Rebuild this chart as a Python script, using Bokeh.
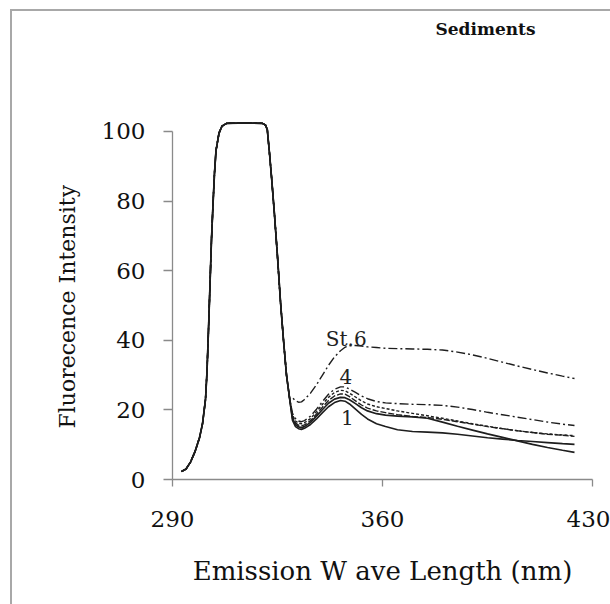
from bokeh.plotting import figure
from bokeh.models import Range1d, FixedTicker, Title
from bokeh.core.properties import value
from bokeh.embed import file_html
from bokeh.resources import INLINE

# ---------------- data ----------------
title_text = "Sediments"
x_label = "Emission W ave Length (nm)"
y_label = "Fluorecence Intensity"
x_ticks = [290, 360, 430]
y_ticks = [0, 20, 40, 60, 80, 100]

# common excitation/scatter peak shared by all stations (nm, intensity)
wl_common = [293, 294.5, 296, 297.5, 299, 300, 301, 301.5, 302, 302.5, 303, 303.5,
             304, 304.5, 305.5, 306.5, 308, 312, 316, 320, 321, 321.6, 322.3, 323,
             324, 325, 326, 327, 328, 329]
int_common = [2.3, 3.0, 5.0, 8.0, 12.0, 16.0, 23.0, 31.0, 43.0, 56.0, 69.0, 79.0,
              88.0, 94.5, 99.5, 101.5, 102.3, 102.4, 102.4, 102.3, 101.8, 100.5, 94.0, 87.0,
              76.0, 64.0, 51.0, 40.0, 30.0, 23.5]

# station specific part
wl_tail = [330, 331, 332, 333, 334, 336, 338, 340, 342, 344, 346, 347.5, 349, 351, 353,
           355, 358, 361, 365, 370, 375, 380, 385, 390, 395, 400, 405, 410, 415, 420, 424]
st6 = [23.5, 22.6, 22.2, 22.3, 23.0, 24.8, 27.2, 30.0, 32.8, 35.2, 37.0, 38.0, 38.4, 38.5, 38.3,
       38.1, 37.9, 37.7, 37.6, 37.5, 37.4, 37.2, 36.6, 35.8, 34.8, 33.7, 32.6, 31.6, 30.6, 29.7, 29.0]
st4 = [19.0, 17.5, 16.8, 16.6, 16.9, 18.2, 20.2, 22.4, 24.5, 25.9, 26.6, 26.6, 26.0, 25.0, 24.0,
       23.2, 22.4, 22.0, 21.8, 21.6, 21.5, 21.3, 20.8, 20.1, 19.3, 18.6, 17.9, 17.2, 16.5, 15.9, 15.5]
st5 = [18.5, 16.8, 16.2, 16.0, 16.3, 17.5, 19.5, 21.6, 23.6, 25.0, 25.6, 25.5, 24.8, 23.7, 22.6,
       21.7, 20.9, 20.4, 19.7, 19.0, 18.3, 17.6, 16.8, 16.0, 15.3, 14.6, 14.0, 13.5, 13.1, 12.8, 12.6]
st3 = [18.0, 16.3, 15.6, 15.4, 15.7, 16.9, 18.8, 20.8, 22.7, 24.0, 24.6, 24.5, 23.8, 22.6, 21.4,
       20.5, 19.7, 19.2, 18.6, 18.1, 17.8, 17.3, 16.6, 15.9, 15.2, 14.6, 14.0, 13.5, 13.0, 12.7, 12.4]
st2 = [17.5, 15.8, 15.1, 14.9, 15.2, 16.4, 18.2, 20.1, 21.9, 23.1, 23.6, 23.5, 22.9, 21.8, 20.6,
       19.7, 18.9, 18.5, 18.2, 18.0, 17.6, 16.5, 15.3, 14.2, 13.1, 12.1, 11.1, 10.1, 9.2, 8.4, 7.8]
st1 = [17.0, 15.2, 14.6, 14.4, 14.7, 15.8, 17.4, 19.2, 20.9, 22.1, 22.7, 22.5, 21.7, 20.2, 18.7,
       17.4, 16.0, 15.2, 14.3, 13.8, 13.6, 13.4, 13.0, 12.5, 12.0, 11.6, 11.2, 10.9, 10.6, 10.3, 10.1]

stations = ["St.1", "St.2", "St.3", "St.4", "St.5", "St.6"]
station_values = [st1, st2, st3, st4, st5, st6]

# curve labels
label_text = ["St.6", "4", "1"]
label_x = [347.9, 347.8, 348.3]
label_y = [40.5, 29.5, 17.8]

# ---------------- styles ----------------
dashes = {"St.1": "solid", "St.2": "solid", "St.3": "6 2", "St.4": "9 3 2 3",
          "St.5": "3 2", "St.6": "9 3 2 3"}
widths = {"St.1": 1.6, "St.2": 1.7, "St.3": 1.4, "St.4": 1.4, "St.5": 1.4, "St.6": 1.4}
SERIF = "DejaVu Serif"
FRAME_GREY = "#a8a8a8"

p = figure(width=610, height=604, x_range=Range1d(290, 430), y_range=Range1d(0, 106),
           output_backend="svg", toolbar_location=None,
           min_border_left=172, min_border_right=18, min_border_top=110, min_border_bottom=125)
# thin grey page frame (left and top edges) painted behind a transparent canvas
p.styles = {"background": (f"linear-gradient({FRAME_GREY},{FRAME_GREY}) 10px 9px / 2px 100% no-repeat, "
                           f"linear-gradient({FRAME_GREY},{FRAME_GREY}) 10px 9px / 100% 2px no-repeat, "
                           "white")}

p.title.text = title_text
p.title.text_font = SERIF
p.title.text_font_style = "bold"
p.title.text_font_size = "17px"
p.title.align = "left"
p.title.offset = 263
p.title.standoff = 10
p.title.text_color = "#111111"

# empty spacer between the frame and the title
p.add_layout(Title(text=" ", text_font_size="17px", standoff=46), "above")

# y-axis title, placed along the 0-100 axis line
p.add_layout(Title(text=y_label, align="left", offset=51, standoff=38,
                   text_font=SERIF, text_font_size="22px", text_font_style="normal",
                   text_color="#111111"), "left")

p.outline_line_color = None
p.grid.grid_line_color = None
p.background_fill_color = None
p.border_fill_color = None

for name, vals in zip(stations, station_values):
    xs = wl_common + wl_tail
    ys = int_common + vals
    p.line(xs, ys, line_color="#1e1e1e", line_width=widths[name], line_dash=dashes[name])

p.text(x=label_x, y=label_y, text=label_text, text_font=value(SERIF), text_font_size="20px",
       text_align="center", text_baseline="middle", text_color="#222222")

for ax, ticks in ((p.xaxis, x_ticks), (p.yaxis, y_ticks)):
    ax.ticker = FixedTicker(ticks=ticks)
    ax.minor_tick_line_color = None
    ax.major_tick_in = 0
    ax.axis_line_color = "#8a8a8a"
    ax.major_tick_line_color = "#8a8a8a"
    ax.axis_line_width = 1.3
    ax.major_tick_line_width = 1.3
    ax.major_label_text_font = SERIF
    ax.major_label_text_font_size = "23px"
    ax.major_label_text_color = "#111111"
    ax.axis_label_text_font = SERIF
    ax.axis_label_text_font_style = "normal"
    ax.axis_label_text_color = "#111111"

p.xaxis.bounds = (290, 430)
p.yaxis.bounds = (0, 100)
p.xaxis.major_tick_out = 7
p.yaxis.major_tick_out = 9
p.xaxis.major_label_standoff = 24
p.yaxis.major_label_standoff = 18
p.xaxis.axis_label = x_label
p.xaxis.axis_label_text_font_size = "26px"
p.xaxis.axis_label_standoff = 26

open("out.html", "w").write(file_html(p, INLINE))
